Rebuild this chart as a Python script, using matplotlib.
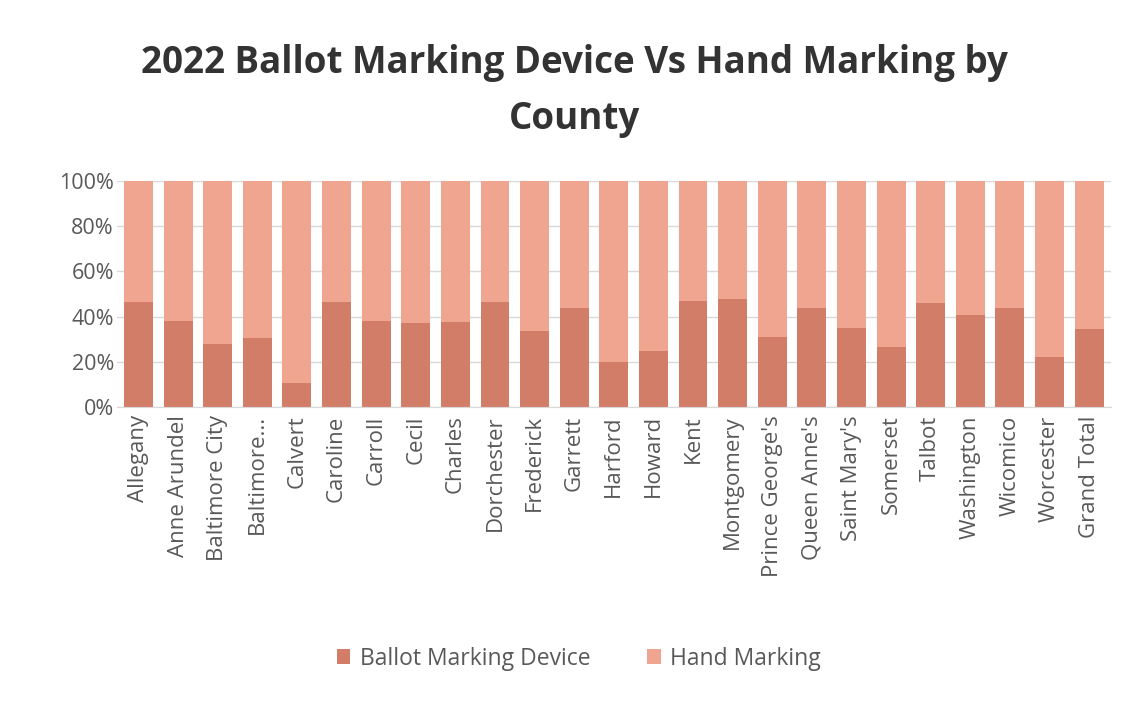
import matplotlib
matplotlib.use("Agg")
import matplotlib.pyplot as plt
import numpy as np

counties = ["Allegany", "Anne Arundel", "Baltimore City", "Baltimore...", "Calvert",
            "Caroline", "Carroll", "Cecil", "Charles", "Dorchester", "Frederick",
            "Garrett", "Harford", "Howard", "Kent", "Montgomery", "Prince George's",
            "Queen Anne's", "Saint Mary's", "Somerset", "Talbot", "Washington",
            "Wicomico", "Worcester", "Grand Total"]
# percent of ballots marked with a ballot marking device
bmd_pct = [46.4, 38.1, 27.9, 30.4, 10.7, 46.4, 38.2, 37.0, 37.6, 46.6, 33.6,
           43.9, 19.9, 24.9, 47.0, 47.8, 31.1, 43.7, 34.8, 26.7, 46.2, 40.6,
           43.9, 22.0, 34.5]
hand_pct = [100 - v for v in bmd_pct]

dark = "#D27D68"
light = "#F0A590"
text_col = "#595959"

plt.rcParams["font.family"] = ["Open Sans", "DejaVu Sans"]

fig = plt.figure(figsize=(11.35, 7.03), dpi=100)
ax = fig.add_axes([0.1028, 0.421, 0.876, 0.3215])

x = np.arange(len(counties))
ax.bar(x, bmd_pct, width=0.73, color=dark, label="Ballot Marking Device", zorder=2)
ax.bar(x, hand_pct, width=0.73, bottom=bmd_pct, color=light, label="Hand Marking", zorder=2)

ax.set_xlim(-0.55, len(counties) - 0.45)
ax.set_ylim(0, 100)
ax.set_yticks(range(0, 101, 20))
ax.set_yticklabels([f"{v}%" for v in range(0, 101, 20)], fontsize=15.5, color=text_col)
ax.set_xticks(x)
ax.set_xticklabels(counties, rotation=90, fontsize=16, color=text_col)
ax.tick_params(axis="y", length=0, pad=2)
ax.tick_params(axis="x", length=0, pad=6)
ax.grid(axis="y", color="#D9D9D9", linewidth=1, zorder=0)
for s in ["top", "right", "left"]:
    ax.spines[s].set_visible(False)
ax.spines["bottom"].set_color("#D9D9D9")

fig.text(0.506, 0.911, "2022 Ballot Marking Device Vs Hand Marking by",
         ha="center", va="center", fontsize=26.5, fontweight="bold", color="#333333")
fig.text(0.506, 0.831, "County", ha="center", va="center",
         fontsize=26.5, fontweight="bold", color="#333333")

fig.legend(loc="center", bbox_to_anchor=(0.51, 0.063), ncol=2, frameon=False,
           fontsize=16.5, handlelength=0.6, handleheight=0.6, columnspacing=2.5,
           handletextpad=0.4, labelcolor=text_col)

fig.savefig("out.png", dpi=100, facecolor="white")
